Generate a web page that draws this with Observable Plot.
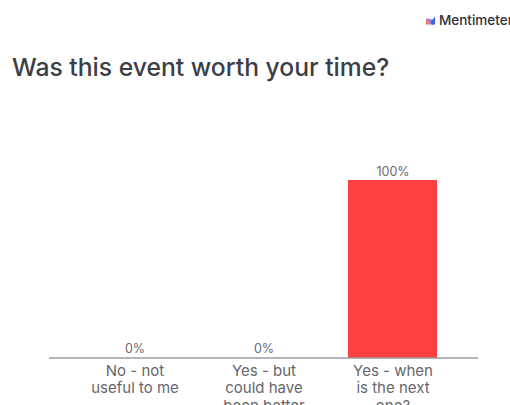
<!DOCTYPE html>
<html>
<head>
<meta charset="utf-8">
<script src="https://cdn.jsdelivr.net/npm/d3@7"></script>
<script src="https://cdn.jsdelivr.net/npm/@observablehq/plot@0.6"></script>
<style>
  html, body { margin: 0; padding: 0; background: #fff; overflow: hidden; }
  #page { position: relative; width: 510px; height: 405px; overflow: hidden; font-family: Inter, sans-serif; }
  #title { position: absolute; left: 12px; top: 51px; margin: 0; font-size: 24.7px; font-weight: 500; line-height: 32px; color: #3c3e46; white-space: nowrap; }
  #brand { position: absolute; left: 426px; top: 14px; display: flex; align-items: center; gap: 3px; font-size: 13.5px; font-weight: 500; color: #2e3038; white-space: nowrap; line-height: 13px; }
  #chart { position: absolute; left: 0; top: 0; }
  #chart svg { display: block; }
</style>
</head>
<body>
<div id="page">
  <div id="chart"></div>
  <h1 id="title">Was this event worth your time?</h1>
  <div id="brand">
    <svg width="10" height="9" viewBox="0 0 11 9" aria-hidden="true">
      <path d="M0 9V2L5 9Z" fill="#f0736f"/>
      <path d="M0 2L5 9H9V4Z" fill="#8f7fd8"/>
      <path d="M5.5 6L10 0V9H6Z" fill="#3f63d8"/>
    </svg>
    <span>Mentimeter</span>
  </div>
</div>
<script>
// Poll results: one option per bar, share of votes in percent.
const options = ["No - not\nuseful to me", "Yes - but\ncould have\nbeen better", "Yes - when\nis the next\none?"];
const shares = [0, 0, 100];

const rows = options.map((option, i) => ({option, share: shares[i]}));

const chart = Plot.plot({
  width: 510,
  height: 405,
  marginLeft: 49,
  marginRight: 32,
  marginTop: 180,
  marginBottom: 47,
  style: {background: "transparent", fontFamily: "Inter, sans-serif", overflow: "hidden"},
  x: {domain: options, range: [49, 479], padding: 0.31, label: null},
  y: {domain: [0, 100], range: [357.5, 180], axis: null},
  marks: [
    Plot.barY(rows, {x: "option", y: "share", fill: "#ff4040"}),
    Plot.ruleY([0], {stroke: "#6b6d73", strokeWidth: 1.2}),
    Plot.text(rows, {
      x: "option",
      y: "share",
      text: d => `${d.share}%`,
      dy: -9,
      fontSize: 12.5,
      fill: "#6a6a70"
    }),
    Plot.axisX({
      tickSize: 0,
      tickPadding: 5,
      fontSize: 15,
      lineHeight: 1.16,
      color: "#66666c",
      label: null,
      textOverflow: null
    })
  ]
});

document.getElementById("chart").append(chart);
</script>
</body>
</html>
